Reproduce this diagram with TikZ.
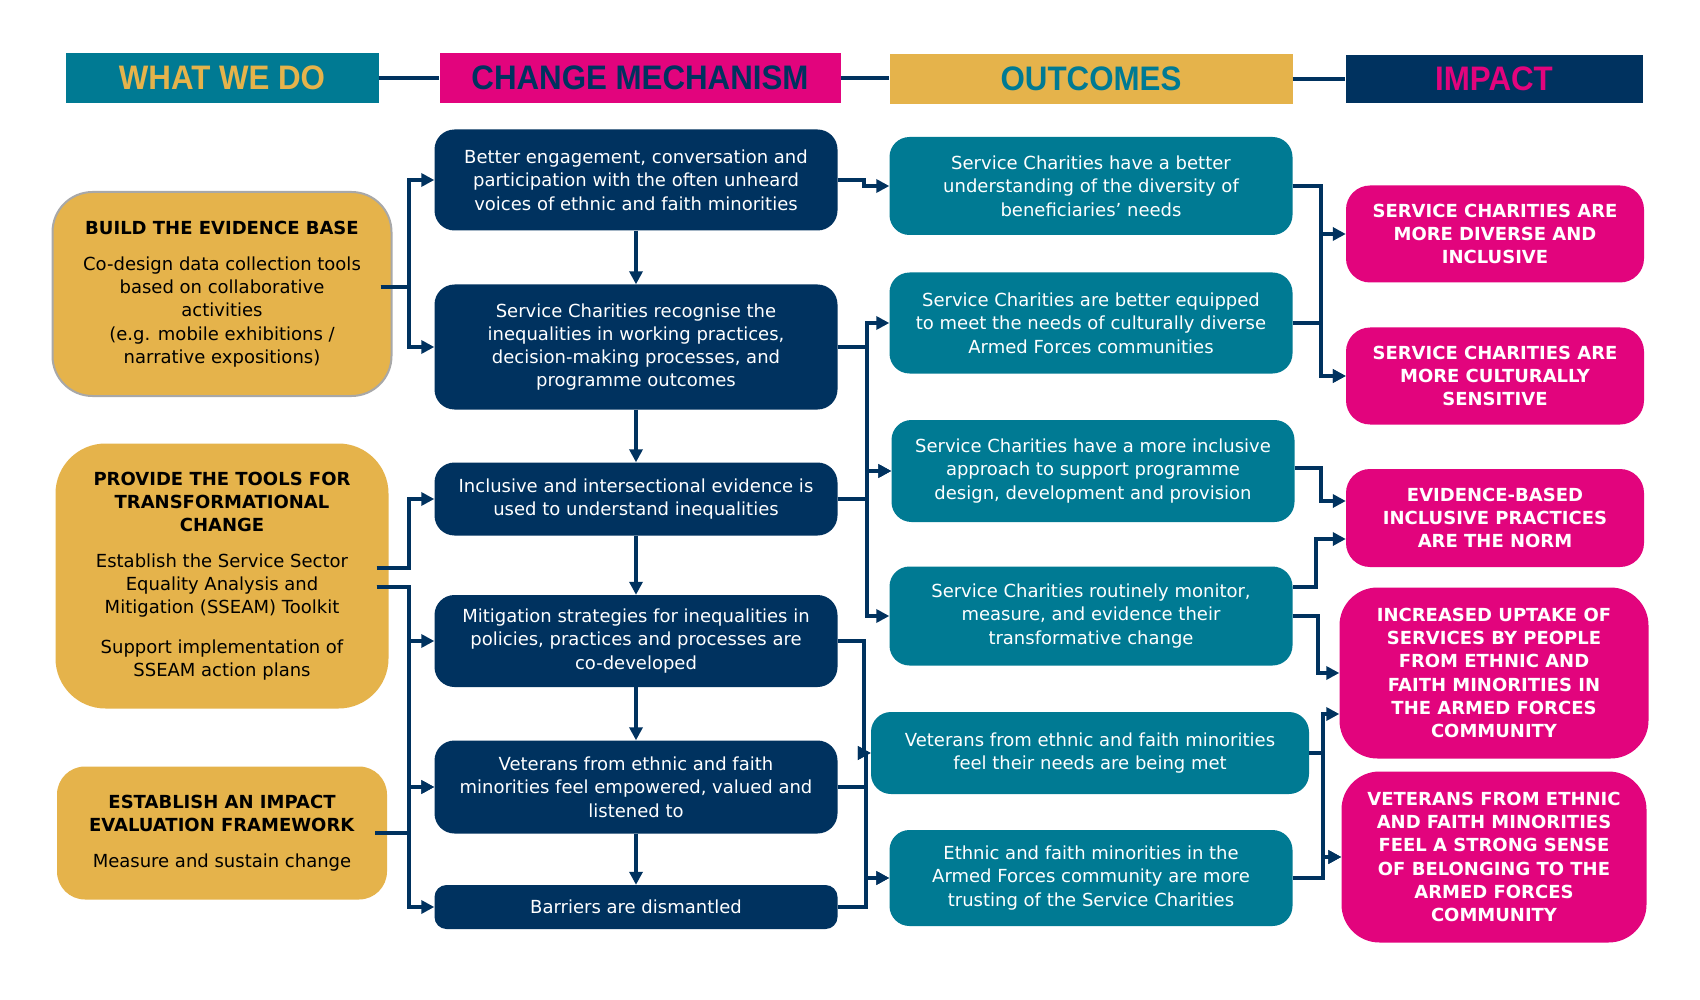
\documentclass[tikz,border=0pt]{standalone}
\usepackage{fontspec}
\setmainfont{DejaVu Sans}
\newfontfamily\headfont[FakeStretch=0.92]{Liberation Sans}
\usetikzlibrary{arrows.meta}
\definecolor{mynavy}{HTML}{00325F}
\definecolor{myteal}{HTML}{007A93}
\definecolor{mymag}{HTML}{E2047D}
\definecolor{mygold}{HTML}{E5B34B}
\definecolor{mygrey}{HTML}{A8A8A8}
\begin{document}
\begin{tikzpicture}[x=1pt,y=-1pt,
  body/.style={font=\fontsize{18}{23.3}\selectfont, align=center, inner sep=0pt},
  head/.style={font=\headfont\bfseries\fontsize{34}{36}\selectfont, inner sep=0pt, minimum height=50pt},
  mech/.style={body, fill=mynavy, text=white, rounded corners=20pt, minimum width=403pt},
  outc/.style={body, fill=myteal, text=white, rounded corners=20pt, minimum width=403pt},
  imp/.style={body, font=\bfseries\fontsize{18}{23.3}\selectfont, fill=mymag, text=white, rounded corners=24pt, minimum width=298pt},
  what/.style={body, fill=mygold, text=black},
  conn/.style={draw=mynavy, line width=4pt, -{Triangle[length=13pt,width=13pt]}},
  hline/.style={draw=mynavy, line width=4pt}]
\fill[white] (0,0) rectangle (1700,1000);
\useasboundingbox (0,0) rectangle (1700,1000);

% headers
\node[head, fill=myteal, text=mygold, minimum width=313pt] (H1) at (222,78) {\raisebox{-5pt}{WHAT WE DO}};
\node[head, fill=mymag, text=mynavy, minimum width=401pt] (H2) at (640,78) {\raisebox{-5pt}{CHANGE MECHANISM}};
\node[head, fill=mygold, text=myteal, minimum width=403pt] (H3) at (1091,79) {\raisebox{-5pt}{OUTCOMES}};
\node[head, fill=mynavy, text=mymag, minimum width=297pt, minimum height=48pt] (H4) at (1494,79) {\raisebox{-5pt}{IMPACT}};
\draw[hline] (H1.east) -- (H2.west);
\draw[hline] (H2.east) -- (H3.west |- H2.east);
\draw[hline] (H3.east) -- (H4.west);

% what we do
\node[what, draw=mygrey, line width=2pt, rounded corners=40pt, minimum width=339pt, minimum height=204pt] (B) at (222,294)
  {\textbf{BUILD THE EVIDENCE BASE}\\[13pt] Co-design data collection tools\\ based on collaborative\\ activities\\ (e.g. mobile exhibitions /\\ narrative expositions)};
\node[what, rounded corners=50pt, minimum width=333pt, minimum height=265pt] (P) at (222,576)
  {\textbf{PROVIDE THE TOOLS FOR}\\ \textbf{TRANSFORMATIONAL}\\ \textbf{CHANGE}\\[12pt] Establish the Service Sector\\ Equality Analysis and\\ Mitigation (SSEAM) Toolkit\\[16pt] Support implementation of\\ SSEAM action plans};
\node[what, rounded corners=28pt, minimum width=330pt, minimum height=133pt] (E) at (222,833)
  {\textbf{ESTABLISH AN IMPACT}\\ \textbf{EVALUATION FRAMEWORK}\\[12pt] Measure and sustain change};

% change mechanism
\node[mech, minimum height=101pt] (M1) at (636,180) {Better engagement, conversation and\\ participation with the often unheard\\ voices of ethnic and faith minorities};
\node[mech, minimum height=125pt] (M2) at (636,347) {Service Charities recognise the\\ inequalities in working practices,\\ decision-making processes, and\\ programme outcomes};
\node[mech, minimum height=73pt] (M3) at (636,499) {Inclusive and intersectional evidence is\\ used to understand inequalities};
\node[mech, minimum height=92pt] (M4) at (636,641) {Mitigation strategies for inequalities in\\ policies, practices and processes are\\ co-developed};
\node[mech, minimum height=93pt] (M5) at (636,787) {Veterans from ethnic and faith\\ minorities feel empowered, valued and\\ listened to};
\node[mech, minimum height=44pt, rounded corners=12pt] (M6) at (636,907) {Barriers are dismantled};

% outcomes
\node[outc, minimum height=98pt] (O1) at (1091,186) {Service Charities have a better\\ understanding of the diversity of\\ beneficiaries’ needs};
\node[outc, minimum height=101pt] (O2) at (1091,323) {Service Charities are better equipped\\ to meet the needs of culturally diverse\\ Armed Forces communities};
\node[outc, minimum height=102pt] (O3) at (1093,471) {Service Charities have a more inclusive\\ approach to support programme\\ design, development and provision};
\node[outc, minimum height=99pt] (O4) at (1091,616) {Service Charities routinely monitor,\\ measure, and evidence their\\ transformative change};
\node[outc, minimum height=82pt, minimum width=438pt] (O5) at (1090,753) {Veterans from ethnic and faith minorities\\ feel their needs are being met};
\node[outc, minimum height=96pt] (O6) at (1091,878) {Ethnic and faith minorities in the\\ Armed Forces community are more\\ trusting of the Service Charities};

% impact
\node[imp, minimum height=97pt] (I1) at (1495,234) {SERVICE CHARITIES ARE\\ MORE DIVERSE AND\\ INCLUSIVE};
\node[imp, minimum height=97pt] (I2) at (1495,376) {SERVICE CHARITIES ARE\\ MORE CULTURALLY\\ SENSITIVE};
\node[imp, minimum height=98pt] (I3) at (1495,518) {EVIDENCE-BASED\\ INCLUSIVE PRACTICES\\ ARE THE NORM};
\node[imp, minimum height=171pt, minimum width=309pt, rounded corners=38pt] (I4) at (1494,673) {INCREASED UPTAKE OF\\ SERVICES BY PEOPLE\\ FROM ETHNIC AND\\ FAITH MINORITIES IN\\ THE ARMED FORCES\\ COMMUNITY};
\node[imp, minimum height=171pt, minimum width=305pt, rounded corners=38pt] (I5) at (1494,857) {VETERANS FROM ETHNIC\\ AND FAITH MINORITIES\\ FEEL A STRONG SENSE\\ OF BELONGING TO THE\\ ARMED FORCES\\ COMMUNITY};

% what we do -> mechanisms
\draw[conn] ([xshift=-12pt,yshift=7pt]B.east) -- (409,287) |- (M1.west);
\draw[conn] ([xshift=-12pt,yshift=7pt]B.east) -- (409,287) |- (M2.west);
\draw[conn] ([xshift=-12pt,yshift=8pt]P.east) -- (409,568) |- (M3.west);
\draw[conn] ([xshift=-12pt,yshift=-11pt]P.east) -- (409,587) |- (M4.west);
\draw[conn] ([xshift=-12pt,yshift=-11pt]P.east) -- (409,587) |- (M5.west);
\draw[conn] ([xshift=-12pt]E.east) -- (409,833) |- (M5.west);
\draw[conn] ([xshift=-12pt]E.east) -- (409,833) |- (M6.west);

% mechanism chain
\draw[conn] (M1.south) -- (M2.north);
\draw[conn] (M2.south) -- (M3.north);
\draw[conn] (M3.south) -- (M4.north);
\draw[conn] (M4.south) -- (M5.north);
\draw[conn] (M5.south) -- (M6.north);

% mechanisms -> outcomes
\draw[conn] (M1.east) -- (864,180) |- (O1.west);
\draw[conn] (M2.east) -- (867,347) |- (O2.west);
\draw[conn] (M2.east) -- (867,347) |- (O3.west);
\draw[conn] (M2.east) -- (867,347) |- (O4.west);
\draw[conn] (M3.east) -- (867,499) |- (O3.west);
\draw[conn] (M4.east) -- (864,641) |- (O5.west);
\draw[conn] (M5.east) -- (866,787) |- (O5.west);
\draw[conn] (M5.east) -- (866,787) |- (O6.west);
\draw[conn] (M6.east) -- (866,907) |- (O6.west);

% outcomes -> impact
\draw[conn] (O1.east) -- (1321,186) |- (I1.west);
\draw[conn] (O1.east) -- (1321,186) |- (I2.west);
\draw[conn] (O2.east) -- (1321,323) |- (I2.west);
\draw[conn] ([yshift=3pt]O3.east) -- (1321,468) |- ([yshift=17pt]I3.west);
\draw[conn] ([yshift=29pt]O4.east) -- (1316,587) |- ([yshift=-21pt]I3.west);
\draw[conn] (O4.east) -- (1318,616) |- (I4.west);
\draw[conn] (O5.east) -- (1323,753) |- ([yshift=-41pt]I4.west);
\draw[conn] (O5.east) -- (1323,753) |- (I5.west);
\draw[conn] (O6.east) -- (1323,878) |- (I5.west);
\end{tikzpicture}
\end{document}
